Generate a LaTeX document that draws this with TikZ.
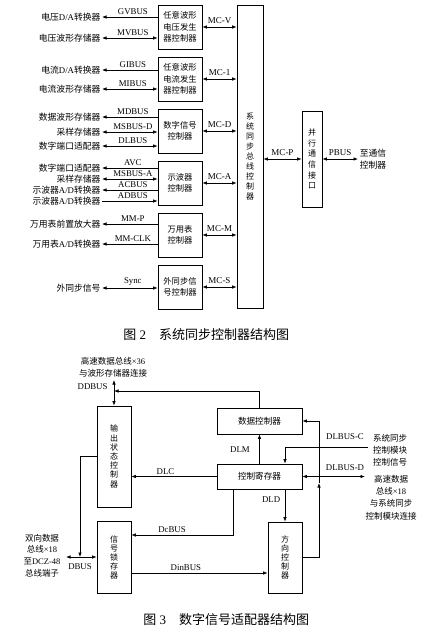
\documentclass[tikz,border=0pt]{standalone}
\usepackage{fontspec}
\setmainfont{Liberation Serif}
\newfontfamily\cjk{Noto Sans CJK SC}
\usetikzlibrary{arrows.meta}
\begin{document}
\begin{tikzpicture}[x=1pt,y=-1pt,
  >={Latex[length=4.5pt,width=3.4pt]},
  every path/.style={line width=0.6pt},
  box/.style={draw, line width=0.6pt, inner sep=0pt, align=center, font={\cjk\fontsize{8.3}{11.5}\selectfont}},
  vbox/.style={box, font={\cjk\fontsize{8}{9.2}\selectfont}},
  txt/.style={font={\fontsize{8.8}{10}\selectfont}, inner sep=1.2pt, anchor=east},
  note/.style={font={\cjk\fontsize{8.5}{11.8}\selectfont}, inner sep=0pt, align=center},
  lbl/.style={font={\fontsize{8.8}{10}\selectfont}, inner sep=0.5pt, above, yshift=1.5pt},
  mclbl/.style={font={\fontsize{9}{10}\selectfont}, inner sep=0.5pt, above, yshift=3pt},
  captxt/.style={font={\fontsize{13}{15}\selectfont}, inner sep=0pt, anchor=west}]
\fill[white] (0,0) rectangle (426,638);
\useasboundingbox (0,0) rectangle (426,638);

% ---------------- Figure 2 ----------------
\node[box, minimum width=44pt, minimum height=44pt] (b1) at (180,27) {任意波形\\电压发生\\器控制器};
\node[box, minimum width=44pt, minimum height=44pt] (b2) at (180,79) {任意波形\\电流发生\\器控制器};
\node[box, minimum width=44pt, minimum height=44pt] (b3) at (180,131) {数字信号\\控制器};
\node[box, minimum width=44pt, minimum height=44pt] (b4) at (180,183) {示波器\\控制器};
\node[box, minimum width=44pt, minimum height=44pt] (b5) at (180,235) {万用表\\控制器};
\node[box, minimum width=44pt, minimum height=44pt] (b6) at (180,287) {外同步信\\号控制器};

\node[box, minimum width=26pt, minimum height=303pt, font={\cjk\fontsize{8}{10}\selectfont}] (sc) at (250,156.5) {系\\统\\同\\步\\总\\线\\控\\制\\器};
\node[box, minimum width=20pt, minimum height=96pt, font={\cjk\fontsize{8}{10.6}\selectfont}] (pc) at (312,159) {并\\行\\通\\信\\接\\口};
\node[note, anchor=west, inner sep=1.5pt, font={\cjk\fontsize{8.8}{12}\selectfont}] (tc) at (358,159) {至通信\\控制器};

\draw[<->] (b1.east) -- (b1.east -| sc.west) node[mclbl, midway] {MC-V};
\draw[<->] (b2.east) -- (b2.east -| sc.west) node[mclbl, midway] {MC-1};
\draw[<->] (b3.east) -- (b3.east -| sc.west) node[mclbl, midway] {MC-D};
\draw[<->] (b4.east) -- (b4.east -| sc.west) node[mclbl, midway] {MC-A};
\draw[<->] (b5.east) -- (b5.east -| sc.west) node[mclbl, midway] {MC-M};
\draw[<->] (b6.east) -- (b6.east -| sc.west) node[mclbl, midway] {MC-S};
\draw[<->] (sc.east |- pc.west) -- (pc.west) node[mclbl, midway] {MC-P};
\draw[<->] (pc.east) -- (tc.west) node[mclbl, midway] {PBUS};

\node[txt] (t1) at (102,17) {{\cjk 电压}D/A{\cjk 转换器}};
\node[txt] (t2) at (102,38) {{\cjk 电压波形存储器}};
\node[txt] (t3) at (102,70) {{\cjk 电流}D/A{\cjk 转换器}};
\node[txt] (t4) at (102,89) {{\cjk 电流波形存储器}};
\node[txt] (t5) at (102,117) {{\cjk 数据波形存储器}};
\node[txt] (t6) at (102,132) {{\cjk 采样存储器}};
\node[txt] (t7) at (102,146) {{\cjk 数字端口适配器}};
\node[txt] (t8) at (102,168) {{\cjk 数字端口适配器}};
\node[txt] (t9) at (102,179) {{\cjk 采样存储器}};
\node[txt] (t10) at (102,190) {{\cjk 示波器}A/D{\cjk 转换器}};
\node[txt] (t11) at (102,201) {{\cjk 示波器}A/D{\cjk 转换器}};
\node[txt] (t12) at (102,224) {{\cjk 万用表前置放大器}};
\node[txt] (t13) at (102,244) {{\cjk 万用表}A/D{\cjk 转换器}};
\node[txt] (t14) at (102,288) {{\cjk 外同步信号}};

\draw[<-] (t1.east) -- (t1.east -| b1.west) node[lbl, midway, xshift=3pt] {GVBUS};
\draw[<->] (t2.east) -- (t2.east -| b1.west) node[lbl, midway, xshift=3pt] {MVBUS};
\draw[<-] (t3.east) -- (t3.east -| b2.west) node[lbl, midway, xshift=3pt] {GIBUS};
\draw[<->] (t4.east) -- (t4.east -| b2.west) node[lbl, midway, xshift=3pt] {MIBUS};
\draw[<-] (t5.east) -- (t5.east -| b3.west) node[lbl, midway, xshift=3pt] {MDBUS};
\draw[<->] (t6.east) -- (t6.east -| b3.west) node[lbl, midway, xshift=3pt] {MSBUS-D};
\draw[<->] (t7.east) -- (t7.east -| b3.west) node[lbl, midway, xshift=3pt] {DLBUS};
\draw[<-] (t8.east) -- (t8.east -| b4.west) node[lbl, midway, xshift=3pt] {AVC};
\draw[<->] (t9.east) -- (t9.east -| b4.west) node[lbl, midway, xshift=3pt] {MSBUS-A};
\draw[<-] (t10.east) -- (t10.east -| b4.west) node[lbl, midway, xshift=3pt] {ACBUS};
\draw[->] (t11.east) -- (t11.east -| b4.west) node[lbl, midway, xshift=3pt] {ADBUS};
\draw[<-] (t12.east) -- (t12.east -| b5.west) node[lbl, midway, xshift=3pt] {MM-P};
\draw[<-] (t13.east) -- (t13.east -| b5.west) node[lbl, midway, xshift=3pt] {MM-CLK};
\draw[<->] (t14.east) -- (t14.east -| b6.west) node[lbl, midway, xshift=3pt] {Sync};

\node[captxt] (cap2) at (123,335) {{\cjk 图} 2\hspace{13pt}{\cjk 系统同步控制器结构图}};

% ---------------- Figure 3 ----------------
\node[vbox, minimum width=34pt, minimum height=101pt] (oc) at (114,456.5) {输\\出\\状\\态\\控\\制\\器};
\node[vbox, minimum width=34pt, minimum height=72pt, font={\cjk\fontsize{8}{9}\selectfont}] (sl) at (114,557) {信\\号\\锁\\存\\器};
\node[box, minimum width=85pt, minimum height=26pt, font={\cjk\fontsize{8.6}{10}\selectfont}] (dc) at (259.5,421) {数据控制器};
\node[box, minimum width=85pt, minimum height=25pt, font={\cjk\fontsize{8.6}{10}\selectfont}] (cr) at (259.5,476.5) {控制寄存器};
\node[vbox, minimum width=34pt, minimum height=71pt, font={\cjk\fontsize{8}{8.8}\selectfont}] (dir) at (285,557.5) {方\\向\\控\\制\\器};

\node[note] (ntop) at (113,367.5) {高速数据总线{\rmfamily ×36}\\与波形存储器连接};
\node[note] (nleft) at (42,555.5) {双向数据\\总线{\rmfamily ×18}\\至{\rmfamily DCZ-48}\\总线端子};
\node[note] (nrc) at (390,450.5) {系统同步\\控制模块\\控制信号};
\node[note, font={\cjk\fontsize{8.5}{12.3}\selectfont}] (nrd) at (391,497.5) {高速数据\\总线{\rmfamily ×18}\\与系统同步\\控制模块连接};

\coordinate (ddtop) at (114,380);
\coordinate (ddj) at (114,391);
\coordinate (dbusl) at (66,557);
\coordinate (dbj) at (80,557);
\coordinate (dcb) at (233,535);
\coordinate (fbm) at (319,483);
\coordinate (dlcin) at (368,447);
\coordinate (dldout) at (365,476.5);

\draw[<->] (oc.north) -- (ddtop);
\node[txt, font={\fontsize{8.8}{10}\selectfont}, anchor=east] (ddl) at (109,387) {DDBUS};
\draw[->] (dc.north) |- (ddj);
\draw[->] (cr.north) -- (dc.south) node[lbl, midway, left, xshift=-9pt, yshift=-2pt] {DLM};
\draw[->] (cr.west) -- (cr.west -| oc.east) node[lbl, pos=0.6] {DLC};
\draw[->] (cr.south -| dcb) -- (dcb) -- (dcb -| sl.east) node[lbl, pos=0.6] {DcBUS};
\draw[->] ([yshift=-16pt]sl.east) -- ([yshift=-16pt]sl.east -| dir.west) node[lbl, pos=0.4] {DinBUS};
\draw[->] (dir.north |- cr.south) -- (dir.north) node[lbl, midway, left, xshift=-4pt, yshift=4pt] {DLD};
\draw[->] (dir.east) -| (fbm);
\draw[->] (fbm) |- (dc.east);
\draw[->] (dlcin) -| (dir.north |- cr.north);
\node[lbl, anchor=south, yshift=0pt] (lc) at (345,441.5) {DLBUS-C};
\draw[<->] (cr.east) -- (dldout);
\node[lbl, anchor=south, yshift=0pt] (ld) at (345,473) {DLBUS-D};
\draw[->] (oc.west) -| (dbj);
\draw[<->] (dbusl) -- (sl.west);
\node[font={\fontsize{8.8}{10}\selectfont}, inner sep=0pt] (dbl) at (80,567) {DBUS};

\node[captxt] (cap3) at (143,620) {{\cjk 图} 3\hspace{13pt}{\cjk 数字信号适配器结构图}};
\end{tikzpicture}
\end{document}
